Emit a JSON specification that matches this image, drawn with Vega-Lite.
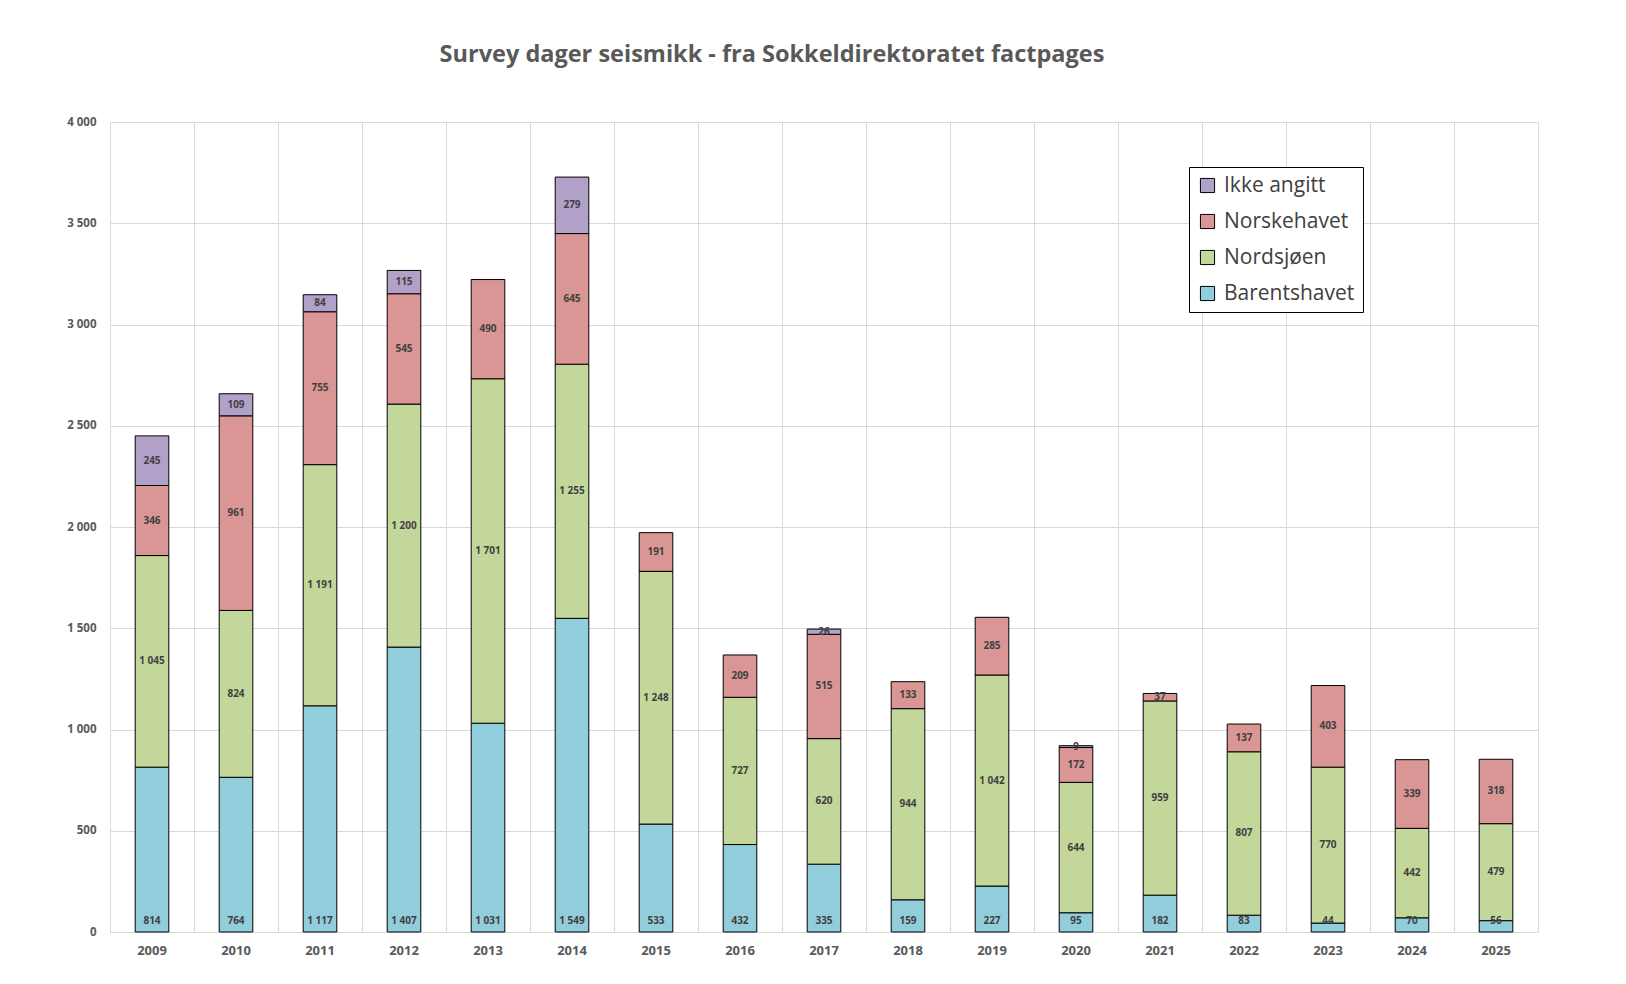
{
  "$schema": "https://vega.github.io/schema/vega-lite/v6.json",
  "width": 1428,
  "height": 810,
  "autosize": {"type": "none"},
  "padding": {"left": 110, "top": 122, "right": 88, "bottom": 52},
  "background": "white",
  "title": {
    "text": "Survey dager seismikk - fra Sokkeldirektoratet factpages",
    "font": "Open Sans",
    "fontSize": 23.5,
    "fontWeight": "bold",
    "color": "#595959",
    "anchor": "middle",
    "offset": 50,
    "dx": -52
  },
  "config": {
    "locale": {"number": {"decimal": ",", "thousands": " ", "grouping": [3], "currency": ["", ""]}},
    "view": {"stroke": "#d9d9d9", "strokeWidth": 1},
    "font": "Open Sans"
  },
  "data": {
    "values": [
      {"year": "2009", "region": "Barentshavet", "order": 1, "value": 814},
      {"year": "2009", "region": "Nordsjøen", "order": 2, "value": 1045},
      {"year": "2009", "region": "Norskehavet", "order": 3, "value": 346},
      {"year": "2009", "region": "Ikke angitt", "order": 4, "value": 245},
      {"year": "2010", "region": "Barentshavet", "order": 1, "value": 764},
      {"year": "2010", "region": "Nordsjøen", "order": 2, "value": 824},
      {"year": "2010", "region": "Norskehavet", "order": 3, "value": 961},
      {"year": "2010", "region": "Ikke angitt", "order": 4, "value": 109},
      {"year": "2011", "region": "Barentshavet", "order": 1, "value": 1117},
      {"year": "2011", "region": "Nordsjøen", "order": 2, "value": 1191},
      {"year": "2011", "region": "Norskehavet", "order": 3, "value": 755},
      {"year": "2011", "region": "Ikke angitt", "order": 4, "value": 84},
      {"year": "2012", "region": "Barentshavet", "order": 1, "value": 1407},
      {"year": "2012", "region": "Nordsjøen", "order": 2, "value": 1200},
      {"year": "2012", "region": "Norskehavet", "order": 3, "value": 545},
      {"year": "2012", "region": "Ikke angitt", "order": 4, "value": 115},
      {"year": "2013", "region": "Barentshavet", "order": 1, "value": 1031},
      {"year": "2013", "region": "Nordsjøen", "order": 2, "value": 1701},
      {"year": "2013", "region": "Norskehavet", "order": 3, "value": 490},
      {"year": "2014", "region": "Barentshavet", "order": 1, "value": 1549},
      {"year": "2014", "region": "Nordsjøen", "order": 2, "value": 1255},
      {"year": "2014", "region": "Norskehavet", "order": 3, "value": 645},
      {"year": "2014", "region": "Ikke angitt", "order": 4, "value": 279},
      {"year": "2015", "region": "Barentshavet", "order": 1, "value": 533},
      {"year": "2015", "region": "Nordsjøen", "order": 2, "value": 1248},
      {"year": "2015", "region": "Norskehavet", "order": 3, "value": 191},
      {"year": "2016", "region": "Barentshavet", "order": 1, "value": 432},
      {"year": "2016", "region": "Nordsjøen", "order": 2, "value": 727},
      {"year": "2016", "region": "Norskehavet", "order": 3, "value": 209},
      {"year": "2017", "region": "Barentshavet", "order": 1, "value": 335},
      {"year": "2017", "region": "Nordsjøen", "order": 2, "value": 620},
      {"year": "2017", "region": "Norskehavet", "order": 3, "value": 515},
      {"year": "2017", "region": "Ikke angitt", "order": 4, "value": 26},
      {"year": "2018", "region": "Barentshavet", "order": 1, "value": 159},
      {"year": "2018", "region": "Nordsjøen", "order": 2, "value": 944},
      {"year": "2018", "region": "Norskehavet", "order": 3, "value": 133},
      {"year": "2019", "region": "Barentshavet", "order": 1, "value": 227},
      {"year": "2019", "region": "Nordsjøen", "order": 2, "value": 1042},
      {"year": "2019", "region": "Norskehavet", "order": 3, "value": 285},
      {"year": "2020", "region": "Barentshavet", "order": 1, "value": 95},
      {"year": "2020", "region": "Nordsjøen", "order": 2, "value": 644},
      {"year": "2020", "region": "Norskehavet", "order": 3, "value": 172},
      {"year": "2020", "region": "Ikke angitt", "order": 4, "value": 9},
      {"year": "2021", "region": "Barentshavet", "order": 1, "value": 182},
      {"year": "2021", "region": "Nordsjøen", "order": 2, "value": 959},
      {"year": "2021", "region": "Norskehavet", "order": 3, "value": 37},
      {"year": "2022", "region": "Barentshavet", "order": 1, "value": 83},
      {"year": "2022", "region": "Nordsjøen", "order": 2, "value": 807},
      {"year": "2022", "region": "Norskehavet", "order": 3, "value": 137},
      {"year": "2023", "region": "Barentshavet", "order": 1, "value": 44},
      {"year": "2023", "region": "Nordsjøen", "order": 2, "value": 770},
      {"year": "2023", "region": "Norskehavet", "order": 3, "value": 403},
      {"year": "2024", "region": "Barentshavet", "order": 1, "value": 70},
      {"year": "2024", "region": "Nordsjøen", "order": 2, "value": 442},
      {"year": "2024", "region": "Norskehavet", "order": 3, "value": 339},
      {"year": "2025", "region": "Barentshavet", "order": 1, "value": 56},
      {"year": "2025", "region": "Nordsjøen", "order": 2, "value": 479},
      {"year": "2025", "region": "Norskehavet", "order": 3, "value": 318}
    ]
  },
  "transform": [
    {"stack": "value", "groupby": ["year"], "sort": [{"field": "order", "order": "ascending"}], "as": ["v0", "v1"]},
    {"calculate": "(datum.v0 + datum.v1) / 2", "as": "mid"}
  ],
  "encoding": {
    "x": {
      "field": "year",
      "type": "ordinal",
      "scale": {"paddingInner": 0, "paddingOuter": 0},
      "axis": {
        "title": null,
        "labelAngle": 0,
        "labelFont": "Open Sans",
        "labelFontSize": 13,
        "labelFontWeight": "bold",
        "labelColor": "#595959",
        "labelPadding": 12,
        "ticks": false,
        "domainColor": "#d9d9d9",
        "grid": true,
        "gridColor": "#d9d9d9",
        "bandPosition": 0
      }
    }
  },
  "layer": [
    {
      "mark": {"type": "bar", "width": {"band": 0.4}, "stroke": "black", "strokeWidth": 1},
      "encoding": {
        "y": {
          "field": "v1",
          "type": "quantitative",
          "scale": {"domain": [0, 4000]},
          "axis": {
            "title": null,
            "values": [0, 500, 1000, 1500, 2000, 2500, 3000, 3500, 4000],
            "format": ",d",
            "labelFont": "Open Sans",
            "labelFontSize": 11.5,
            "labelFontWeight": "bold",
            "labelColor": "#595959",
            "labelPadding": 14,
            "ticks": false,
            "domain": false,
            "gridColor": "#d9d9d9"
          }
        },
        "y2": {"field": "v0"},
        "color": {
          "field": "region",
          "type": "nominal",
          "scale": {
            "domain": ["Ikke angitt", "Norskehavet", "Nordsjøen", "Barentshavet"],
            "range": ["#b1a0c7", "#da9694", "#c4d79b", "#92cddc"]
          },
          "legend": {
            "title": null,
            "orient": "none",
            "legendX": 1079,
            "legendY": 45,
            "symbolType": "square",
            "symbolSize": 200,
            "symbolStrokeColor": "black",
            "symbolStrokeWidth": 1,
            "symbolOpacity": 1,
            "labelFont": "Open Sans",
            "labelFontSize": 21,
            "labelColor": "#404040",
            "labelLimit": 300,
            "rowPadding": 14,
            "strokeColor": "black",
            "fillColor": "white",
            "padding": 8,
            "labelOffset": 6
          }
        }
      }
    },
    {
      "transform": [{"filter": "datum.region !== 'Barentshavet'"}],
      "mark": {"type": "text", "font": "Open Sans", "fontSize": 10, "fontWeight": "bold", "color": "#404040", "baseline": "middle"},
      "encoding": {
        "y": {"field": "mid", "type": "quantitative"},
        "text": {"field": "value", "type": "quantitative", "format": ",d"}
      }
    },
    {
      "transform": [{"filter": "datum.region === 'Barentshavet'"}],
      "mark": {"type": "text", "font": "Open Sans", "fontSize": 10, "fontWeight": "bold", "color": "#404040", "baseline": "middle", "dy": -11},
      "encoding": {
        "y": {"datum": 0, "type": "quantitative"},
        "text": {"field": "value", "type": "quantitative", "format": ",d"}
      }
    }
  ]
}
